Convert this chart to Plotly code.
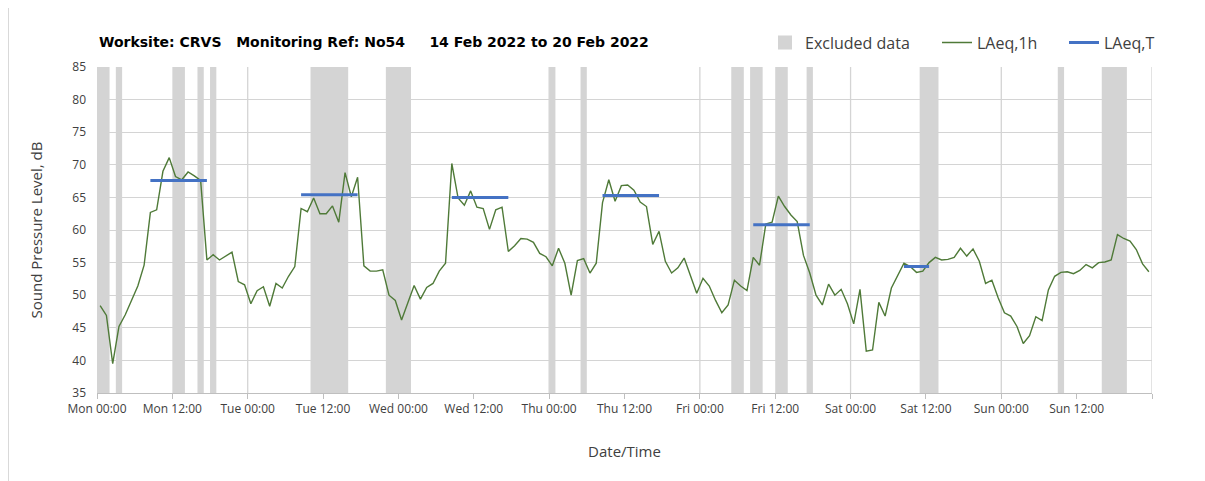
import pandas as pd
import plotly.graph_objects as go

# ---- data ----
start = pd.Timestamp("2022-02-14 00:00")

laeq_1h = [
    48.4, 46.9, 39.5, 45.2, 47.0, 49.2, 51.4, 54.6, 62.7, 63.1, 69.0, 71.1,
    68.2, 67.7, 68.9, 68.3, 67.6, 55.4, 56.2, 55.4, 56.0, 56.6, 52.1, 51.6,
    48.7, 50.7, 51.3, 48.3, 51.8, 51.1, 52.9, 54.4, 63.3, 62.8, 64.9, 62.5,
    62.5, 63.7, 61.2, 68.8, 65.1, 68.1, 54.5, 53.7, 53.7, 53.9, 50.0, 49.2,
    46.2, 48.8, 51.5, 49.4, 51.2, 51.8, 53.7, 54.9, 70.2, 64.9, 63.8, 66.0,
    63.5, 63.3, 60.1, 63.1, 63.5, 56.7, 57.6, 58.7, 58.6, 58.1, 56.4, 55.9,
    54.5, 57.2, 54.9, 50.0, 55.3, 55.6, 53.4, 54.9, 64.2, 67.7, 64.4, 66.8,
    66.9, 66.1, 64.3, 63.6, 57.8, 59.8, 55.2, 53.4, 54.2, 55.7, 53.1, 50.3,
    52.6, 51.4, 49.2, 47.3, 48.5, 52.3, 51.4, 50.7, 55.8, 54.6, 60.9, 61.2,
    65.2, 63.6, 62.3, 61.3, 56.1, 53.4, 50.0, 48.5, 51.7, 50.0, 50.9, 48.7,
    45.6, 50.9, 41.4, 41.6, 48.9, 46.8, 51.1, 53.1, 54.9, 54.4, 53.5, 53.7,
    55.0, 55.8, 55.4, 55.5, 55.8, 57.2, 56.0, 57.1, 55.2, 51.8, 52.3, 49.6,
    47.3, 46.8, 45.2, 42.6, 43.8, 46.7, 46.1, 50.8, 52.9, 53.5, 53.6, 53.3,
    53.8, 54.7, 54.2, 55.0, 55.1, 55.4, 59.3, 58.7, 58.3, 57.0, 54.8, 53.6,
]

# LAeq,T periods: first hour index, last hour index, level
period_first = [8, 32, 56, 80, 104, 128]
period_last = [17, 41, 65, 89, 113, 132]
period_level = [67.6, 65.4, 65.0, 65.3, 60.8, 54.4]

# Excluded data intervals (hours from start)
excl_start = [0, 3, 12, 16, 18, 34, 46, 72, 77, 101, 104, 108, 113, 131, 153, 160]
excl_end = [2, 4, 14, 17, 19, 40, 50, 73, 78, 103, 106, 110, 114, 134, 154, 164]

tick_hours = list(range(0, 169, 12))
tick_labels = ["Mon 00:00", "Mon 12:00", "Tue 00:00", "Tue 12:00", "Wed 00:00",
               "Wed 12:00", "Thu 00:00", "Thu 12:00", "Fri 00:00", "Fri 12:00",
               "Sat 00:00", "Sat 12:00", "Sun 00:00", "Sun 12:00", ""]
grid_hours = list(range(0, 169, 24))

# ---- styling ----
FONT = "Open Sans"
GREEN = "#4f7a38"
BLUE = "#4472c4"
BAND = "#d4d4d4"
GRID = "#d4d4d4"
TXT = "#404040"

W, H = 1197, 473
L, R, T, B = 89, 53, 59, 88
PW = W - L - R
PH = H - T - B


def t(h):
    return start + pd.Timedelta(hours=h)


x_1h = [t(i + 0.5) for i in range(len(laeq_1h))]

fig = go.Figure()

# legend entry for excluded data
fig.add_trace(go.Scatter(
    x=[None], y=[None], mode="markers", name="Excluded data",
    marker=dict(symbol="square", size=14, color=BAND), legend="legend",
))

fig.add_trace(go.Scatter(
    x=x_1h, y=laeq_1h, mode="lines", name="LAeq,1h",
    line=dict(color=GREEN, width=1.4), legend="legend2",
))

for k, (a, b, v) in enumerate(zip(period_first, period_last, period_level)):
    fig.add_trace(go.Scatter(
        x=[t(a + 0.5), t(b + 0.5)], y=[v, v], mode="lines", name="LAeq,T",
        line=dict(color=BLUE, width=3), showlegend=(k == 0), legendgroup="T",
        legend="legend3",
    ))

shapes = []
for a, b in zip(excl_start, excl_end):
    shapes.append(dict(type="rect", xref="x", yref="y", x0=t(a), x1=t(b),
                       y0=35, y1=85, fillcolor=BAND, line=dict(width=0),
                       layer="below"))
for h in grid_hours:
    shapes.append(dict(type="line", xref="x", yref="y", x0=t(h), x1=t(h),
                       y0=35, y1=85, line=dict(color=GRID, width=1.3),
                       layer="below"))
# chart area border (left edge)
shapes.append(dict(type="line", xref="paper", yref="paper",
                   x0=(0.5 - L) / PW, x1=(0.5 - L) / PW,
                   y0=-B / PH, y1=1 + T / PH,
                   line=dict(color="#d9d9d9", width=1), layer="below"))

leg_common = dict(orientation="h", xanchor="left", y=1.075, yanchor="middle",
                  font=dict(size=16, color=TXT), bgcolor="rgba(0,0,0,0)",
                  itemwidth=30)

fig.update_layout(
    width=W, height=H,
    margin=dict(l=L, r=R, t=T, b=B, autoexpand=False),
    paper_bgcolor="white", plot_bgcolor="white",
    font=dict(family=FONT, size=12, color=TXT),
    shapes=shapes,
    showlegend=True,
    legend=dict(x=(765 - 8 - L) / PW, **leg_common),
    legend2=dict(x=(937 - 8 - L) / PW, **leg_common),
    legend3=dict(x=(1064 - 8 - L) / PW, **leg_common),
    annotations=[dict(
        text="<b>Worksite: CRVS&nbsp;&nbsp;&nbsp;Monitoring Ref: No54&nbsp;&nbsp;&nbsp;&nbsp;&nbsp;14 Feb 2022 to 20 Feb 2022</b>",
        xref="paper", yref="paper", x=0, xanchor="left", y=1.077, yanchor="middle",
        showarrow=False, font=dict(size=14, color="#000000", family="DejaVu Sans"),
    )],
)

fig.update_xaxes(
    type="date", range=[t(0), t(168)],
    tickmode="array", tickvals=[t(h) for h in tick_hours], ticktext=tick_labels,
    showgrid=False, showline=True, linecolor="#bfbfbf", linewidth=1,
    ticks="outside", ticklen=5, tickcolor="#bfbfbf",
    tickfont=dict(size=12, color=TXT),
    title=dict(text="Date/Time", font=dict(size=15, color=TXT), standoff=30),
    zeroline=False,
)
fig.update_yaxes(
    range=[35, 85], dtick=5, tick0=35,
    showgrid=True, gridcolor=GRID, gridwidth=1.3,
    showline=False, zeroline=False, ticks="",
    ticklabelstandoff=10,
    tickfont=dict(size=12, color=TXT),
    title=dict(text="Sound Pressure Level, dB", font=dict(size=15, color=TXT), standoff=26),
)

fig.write_html("out.html")
